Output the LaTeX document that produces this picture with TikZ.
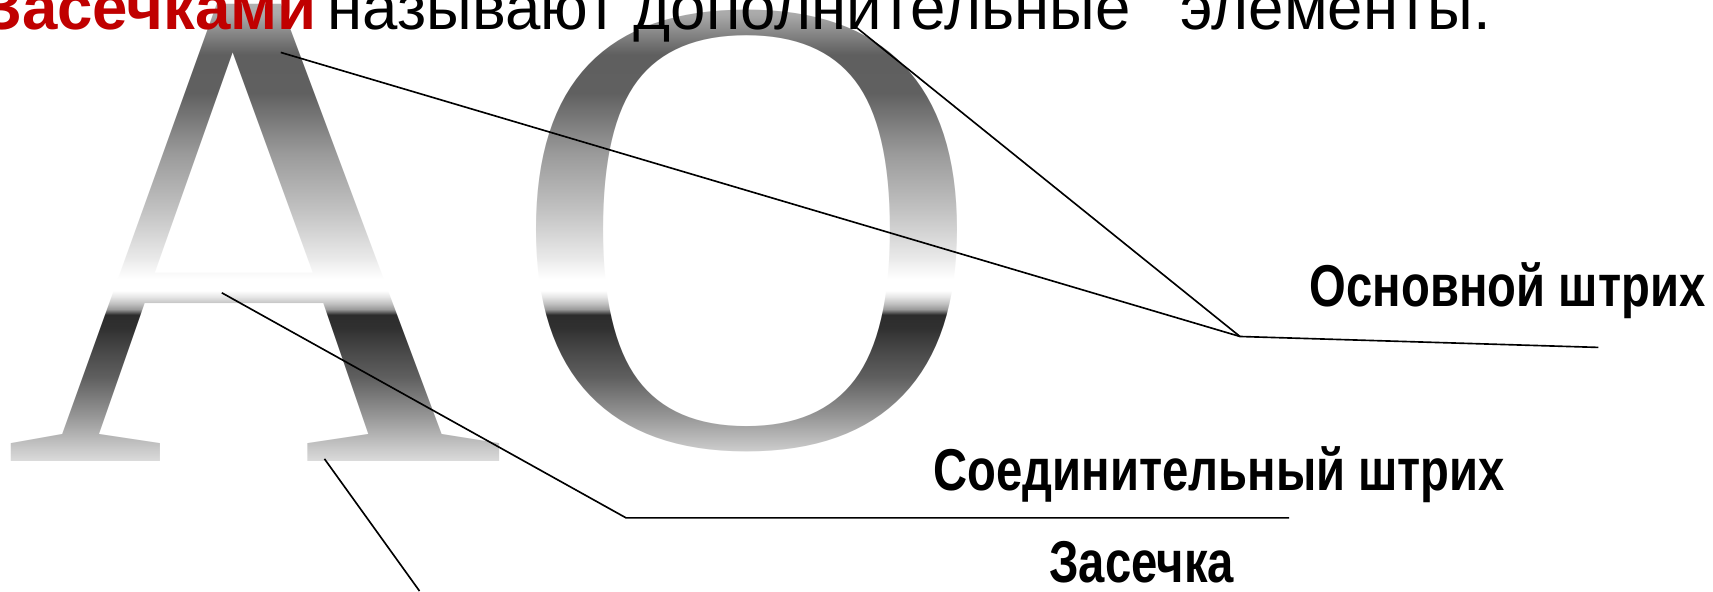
\documentclass[tikz,border=0pt]{standalone}
\usepackage{fontspec}
\newfontfamily\labelfont{Liberation Sans}
\newfontfamily\letterfont{Liberation Serif}
\usetikzlibrary{fadings}
\definecolor{titlered}{HTML}{C00000}
\definecolor{m0}{HTML}{B4B4B4}
\definecolor{m14}{HTML}{A8A8A8}
\definecolor{m40}{HTML}{727272}
\definecolor{m50}{HTML}{5F5F5F}
\definecolor{m85}{HTML}{606060}
\definecolor{m140}{HTML}{9A9A9A}
\definecolor{m190}{HTML}{C0C0C0}
\definecolor{m235}{HTML}{E8E8E8}
\definecolor{m255}{HTML}{FFFFFF}
\definecolor{m266}{HTML}{FFFFFF}
\definecolor{m272}{HTML}{E4E4E4}
\definecolor{m278}{HTML}{C0C0C0}
\definecolor{m283}{HTML}{9A9A9A}
\definecolor{m288}{HTML}{2C2C2C}
\definecolor{m300}{HTML}{303030}
\definecolor{m320}{HTML}{474747}
\definecolor{m345}{HTML}{5F5F5F}
\definecolor{m380}{HTML}{959595}
\definecolor{m410}{HTML}{C8C8C8}
\definecolor{m425}{HTML}{E0E0E0}
\definecolor{m541}{HTML}{F0F0F0}
\pgfdeclareverticalshading{metal}{100bp}{color(0bp)=(m541); color(25bp)=(m541);
 color(35.72bp)=(m425); color(37.11bp)=(m410); color(39.88bp)=(m380);
 color(43.11bp)=(m345); color(45.43bp)=(m320); color(47.27bp)=(m300);
 color(48.38bp)=(m288); color(48.84bp)=(m283); color(49.31bp)=(m278);
 color(49.86bp)=(m272); color(50.42bp)=(m266); color(51.43bp)=(m255);
 color(53.28bp)=(m235); color(57.44bp)=(m190); color(62.06bp)=(m140);
 color(67.14bp)=(m85); color(70.38bp)=(m50); color(71.30bp)=(m40);
 color(73.71bp)=(m14); color(75bp)=(m0); color(100bp)=(m0)}
\AtBeginDocument{%
\pgfdeclarefading{AOfade}{%
  \begin{pgfpicture}%
    \pgfpathrectangle{\pgfpoint{0pt}{-541pt}}{\pgfpoint{1568pt}{541pt}}%
    \pgfusepath{use as bounding box}%
    \pgfsetfillcolor{black}%
    \pgfpathrectangle{\pgfpoint{0pt}{-541pt}}{\pgfpoint{1568pt}{541pt}}%
    \pgfusepath{fill}%
    \pgftext[at=\pgfpoint{4pt}{-422.5pt},base,left]{\color{white}\fontsize{634}{634}\selectfont\letterfont A}%
    \pgftext[at=\pgfpoint{466pt}{-408pt},base,left]{\color{white}\fontsize{602}{602}\selectfont\letterfont O}%
  \end{pgfpicture}}}
\begin{document}
\begin{tikzpicture}[x=1pt,y=-1pt,
  conn/.style={line width=1.5pt, black},
  lbl/.style={font=\labelfont\bfseries\fontsize{54}{54}\selectfont, inner sep=0pt, anchor=base}]
\useasboundingbox (0,0) rectangle (1568,541);
\fill[white] (0,0) rectangle (1568,541);
\shade[shading=metal, path fading=AOfade, fit fading=false,
  fading transform={shift={(784,270.5)}}] (0,0) rectangle (1568,541);
\node[anchor=base east, inner sep=0pt, font=\labelfont\fontsize{58.2}{58.2}\selectfont] (title) at (1365,27)
  {{\color{titlered}\bfseries Засечками}\hspace{10pt}называют дополнительные\hspace{46pt}элементы.};
\coordinate (pA) at (257,48);
\coordinate (pO) at (780,22);
\coordinate (j1) at (1135,308);
\coordinate (e1) at (1463,318);
\coordinate (pX) at (203,268);
\coordinate (j2) at (573,474);
\coordinate (e2) at (1180,474);
\coordinate (pS) at (297,420);
\coordinate (e3) at (384,541);
\draw[conn] (pA) -- (j1) -- (e1);
\draw[conn] (pO) -- (j1);
\draw[conn] (pX) -- (j2) -- (e2);
\draw[conn] (pS) -- (e3);
\node[lbl] (l1) at (1380,281) {\scalebox{0.8}[1]{Основной штрих}};
\node[lbl] (l2) at (1116,449) {\scalebox{0.8}[1]{Соединительный штрих}};
\node[lbl] (l3) at (1045,533) {\scalebox{0.8}[1]{Засечка}};
\end{tikzpicture}
\end{document}
